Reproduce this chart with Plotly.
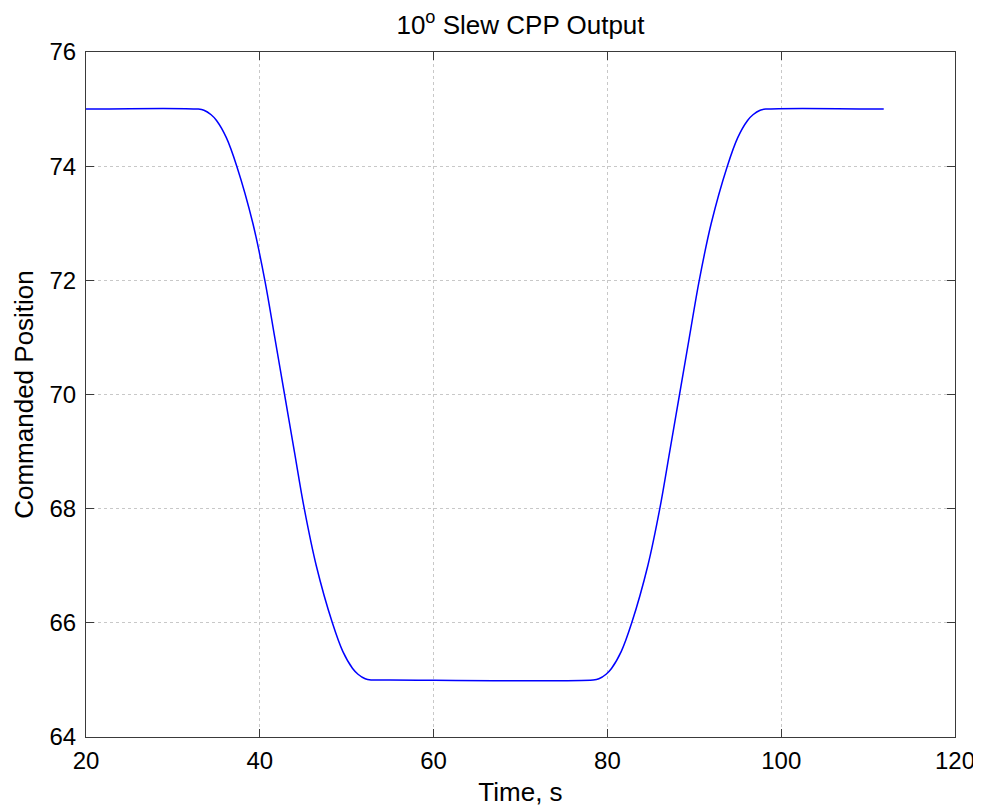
import plotly.graph_objects as go

# Time samples (s)
time_s = [20.0, 32.9, 33.57, 34.4, 35.02, 36.15, 37.35, 39.2, 40.58, 41.72,
          42.85, 43.98, 45.12, 46.5, 48.35, 49.55, 50.68, 51.3, 52.13, 52.8,
          55.0, 78.35, 79.02, 79.85, 80.47, 81.6, 82.8, 84.65, 86.03, 87.17,
          88.3, 89.43, 90.57, 91.95, 93.8, 95.0, 96.13, 96.75, 97.58, 98.25,
          111.8]
# Commanded position
position = [75.0, 75.0, 74.98, 74.9, 74.8, 74.5, 74.0, 73.0, 72.0, 71.0,
            70.0, 69.0, 68.0, 67.0, 66.0, 65.5, 65.2, 65.1, 65.02, 65.0,
            65.0, 65.0, 65.02, 65.1, 65.2, 65.5, 66.0, 67.0, 68.0, 69.0,
            70.0, 71.0, 72.0, 73.0, 74.0, 74.5, 74.8, 74.9, 74.98, 75.0,
            75.0]

x_ticks = [20, 40, 60, 80, 100, 120]
y_ticks = [64, 66, 68, 70, 72, 74, 76]

FONT = "Liberation Sans, Arial, sans-serif"

fig = go.Figure()
fig.add_trace(go.Scatter(
    x=time_s, y=position, mode="lines",
    line=dict(color="#0000ff", width=1.5, shape="spline", smoothing=1.0),
    showlegend=False, hoverinfo="x+y",
))

axis_common = dict(
    showline=True, linecolor="#3a3a3a", linewidth=1, mirror="ticks",
    ticks="inside", ticklen=8, tickcolor="#3a3a3a", tickwidth=1,
    showgrid=True, gridcolor="#c8c8c8", griddash="dot", gridwidth=1,
    zeroline=False, automargin=False,
    tickfont=dict(family=FONT, size=24, color="#000000"),
)

# The page body adds an 8px offset, so the figure is sized to fill the rest.
fig.update_layout(
    width=973, height=800,
    margin=dict(l=78, r=26, t=44, b=71),
    paper_bgcolor="white", plot_bgcolor="white",
    title=dict(text="10<sup>o</sup> Slew CPP Output", x=0.5, xanchor="center",
               xref="paper", yref="container",
               y=1 - 17 / 800, yanchor="middle", automargin=False,
               font=dict(family=FONT, size=26, color="#000000")),
    xaxis=dict(range=[20, 120], tickvals=x_ticks, ticktext=[str(v) for v in x_ticks],
               title=dict(text="Time, s", standoff=10,
                          font=dict(family=FONT, size=26, color="#000000")),
               ticklabelstandoff=2,
               **axis_common),
    yaxis=dict(range=[64, 76], tickvals=y_ticks, ticktext=[str(v) for v in y_ticks],
               title=dict(text="Commanded Position", standoff=8,
                          font=dict(family=FONT, size=26, color="#000000")),
               ticklabelstandoff=4,
               **axis_common),
)

fig.write_html("out.html")
